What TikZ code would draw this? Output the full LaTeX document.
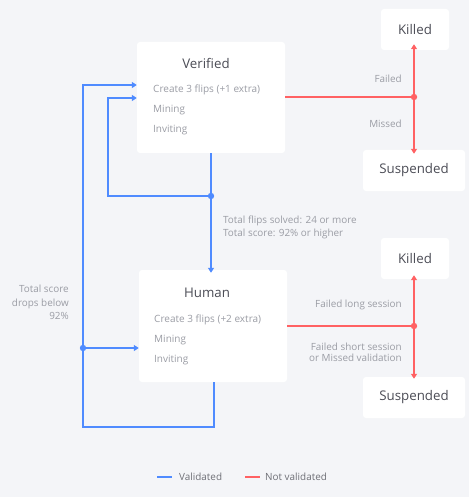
\documentclass[tikz,border=0pt]{standalone}
\usepackage{fontspec}
\setmainfont{Open Sans}
\usepackage{xcolor}
\usetikzlibrary{arrows.meta}
\definecolor{bgcol}{HTML}{F4F5F8}
\definecolor{valblue}{HTML}{4F8BFF}
\definecolor{notred}{HTML}{FF6163}
\definecolor{titlegray}{HTML}{4B4C55}
\definecolor{itemgray}{HTML}{9B9DA5}
\tikzset{
    box/.style={fill=white, rounded corners=3pt, inner sep=0pt},
    title/.style={text=titlegray, font=\fontsize{13.3}{15}\selectfont},
    item/.style={text=itemgray, font=\fontsize{10}{12}\selectfont, anchor=west, inner sep=0pt},
    note/.style={text=itemgray, font=\fontsize{9.9}{12.8}\selectfont, inner sep=0pt},
    valid/.style={draw=valblue, line width=1.8pt},
    notvalid/.style={draw=notred, line width=1.8pt},
    tip/.tip={Triangle[length=5pt,width=6pt]}
}
\begin{document}
\begin{tikzpicture}[x=1pt, y=-1pt]
    % Background
    \fill[bgcol] (0,0) rectangle (469,497);
    \useasboundingbox (0,0) rectangle (469,497);

    % Main boxes
    \node[box, minimum width=148pt, minimum height=111pt] (verified) at (211,97.5) {};
    \node[title] (vtitle) at (206,63) {Verified};
    \node[item] (vflips) at (153,90) {Create 3 flips (+1 extra)};
    \node[item] (vmining) at (153,110) {Mining};
    \node[item] (vinvite) at (153,130) {Inviting};

    \node[box, minimum width=148pt, minimum height=112pt] (human) at (213,326) {};
    \node[title] (htitle) at (207,293) {Human};
    \node[item] (hflips) at (154,320) {Create 3 flips (+2 extra)};
    \node[item] (hmining) at (154,340) {Mining};
    \node[item] (hinvite) at (154,360) {Inviting};

    % Outcome boxes
    \node[box, minimum width=68pt, minimum height=41pt, title] (killedA) at (415,29.5) {Killed};
    \node[box, minimum width=102pt, minimum height=41pt, title] (suspA) at (414,170.5) {Suspended};
    \node[box, minimum width=68pt, minimum height=41pt, title] (killedB) at (415,258.5) {Killed};
    \node[box, minimum width=102pt, minimum height=41pt, title] (suspB) at (414,397.5) {Suspended};

    % Junction points
    \coordinate (vdot) at (211,196);
    \coordinate (hdot) at (83,348);
    \coordinate (redA) at (414,97);
    \coordinate (redB) at (414,326);

    % Validated paths
    \draw[valid, -{tip}] (verified.south) -- (vdot) -- ([yshift=-3pt]human.north -| vdot);
    \draw[valid, -{tip}] (vdot) -- (108,196) -- (108,98) -- (verified.west |- 0,98);
    \draw[valid, -{tip}] (214,382) -- (214,427) -- (83,427) -- (83,85) -- (verified.west |- 0,85);
    \draw[valid, -{tip}] (hdot) -- (human.west |- hdot);
    \fill[valblue] (vdot) circle (3.2pt);
    \fill[valblue] (hdot) circle (3.2pt);

    % Not validated paths
    \draw[notvalid] (verified.east |- redA) -- (redA);
    \draw[notvalid, -{tip}] (redA) -- ([yshift=6pt]killedA.south -| redA);
    \draw[notvalid, -{tip}] (redA) -- ([yshift=-4pt]suspA.north -| redA);
    \fill[notred] (redA) circle (3.2pt);
    \draw[notvalid] (human.east |- redB) -- (redB);
    \draw[notvalid, -{tip}] (redB) -- ([yshift=4pt]killedB.south -| redB);
    \draw[notvalid, -{tip}] (redB) -- ([yshift=-2pt]suspB.north -| redB);
    \fill[notred] (redB) circle (3.2pt);

    % Labels
    \node[note, anchor=west, align=left] (promote) at (223,227.5) {Total flips solved: 24 or more\\Total score: 92\% or higher};
    \node[note, anchor=east, align=right, font=\fontsize{9.9}{13.5}\selectfont] (demote) at (69,302.5) {Total score\\drops below\\92\%};
    \node[note, anchor=east] (failA) at (402,79) {Failed};
    \node[note, anchor=east] (missA) at (402,124) {Missed};
    \node[note, anchor=east] (failB) at (402,305) {Failed long session};
    \node[note, anchor=east, align=right, font=\fontsize{9.9}{11.5}\selectfont] (missB) at (402,352.5) {Failed short session\\or Missed validation};

    % Legend
    \draw[valid] (157,477) -- (172,477);
    \node[note, anchor=west, text=titlegray!80] (legval) at (179,477) {Validated};
    \draw[notvalid] (245,477) -- (260,477);
    \node[note, anchor=west, text=titlegray!80] (legnot) at (265,477) {Not validated};
\end{tikzpicture}
\end{document}
